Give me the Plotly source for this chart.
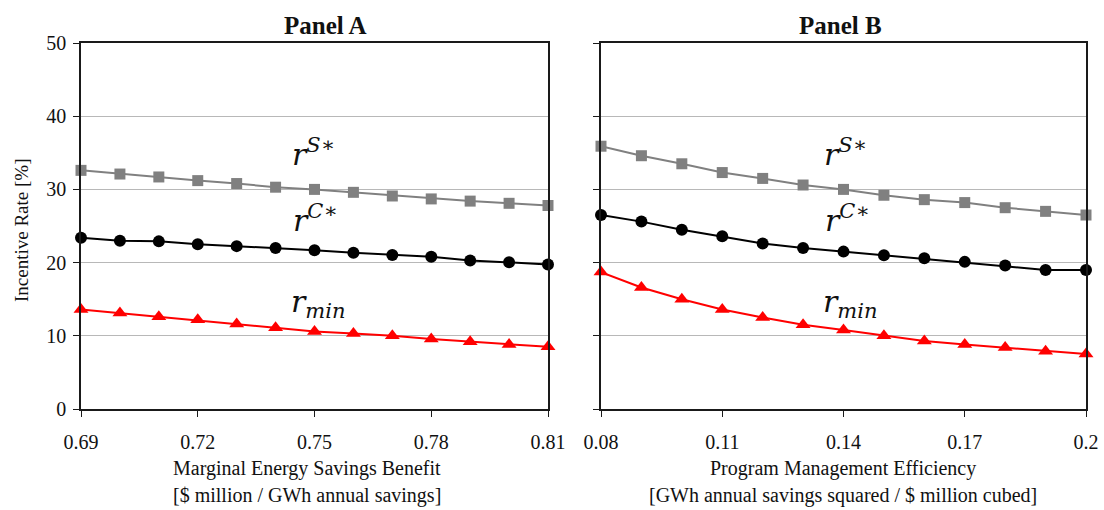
import plotly.graph_objects as go

# ---- data ----
x_a = [0.69, 0.70, 0.71, 0.72, 0.73, 0.74, 0.75, 0.76, 0.77, 0.78, 0.79, 0.80, 0.81]
rs_a = [32.6, 32.1, 31.7, 31.2, 30.8, 30.3, 30.0, 29.6, 29.1, 28.7, 28.4, 28.1, 27.8]
rc_a = [23.4, 23.0, 22.9, 22.5, 22.25, 22.0, 21.7, 21.35, 21.05, 20.8, 20.3, 20.05, 19.75]
rmin_a = [13.6, 13.1, 12.6, 12.2, 11.6, 11.1, 10.6, 10.3, 10.0, 9.55, 9.2, 8.8, 8.5]

x_b = [0.08, 0.09, 0.10, 0.11, 0.12, 0.13, 0.14, 0.15, 0.16, 0.17, 0.18, 0.19, 0.20]
rs_b = [35.9, 34.6, 33.5, 32.3, 31.5, 30.6, 30.0, 29.2, 28.6, 28.2, 27.5, 27.0, 26.5]
rc_b = [26.5, 25.6, 24.5, 23.6, 22.6, 22.0, 21.5, 21.0, 20.6, 20.1, 19.6, 19.0, 19.0]
rmin_b = [18.7, 16.6, 15.0, 13.6, 12.5, 11.5, 10.8, 10.0, 9.3, 8.8, 8.4, 7.9, 7.5]

ticks_a = [0.69, 0.72, 0.75, 0.78, 0.81]
ticklabels_a = ["0.69", "0.72", "0.75", "0.78", "0.81"]
ticks_b = [0.08, 0.11, 0.14, 0.17, 0.20]
ticklabels_b = ["0.08", "0.11", "0.14", "0.17", "0.2"]
yticks = [0, 10, 20, 30, 40, 50]

W, H = 1104, 510
FONT = "Liberation Serif"

def px(x):
    return x / W

def py(y):
    return 1 - y / H

fig = go.Figure()

series_style = [
    ("rS", dict(color="#808080", symbol="square", size=11), "#808080"),
    ("rC", dict(color="#000000", symbol="circle", size=12), "#000000"),
    ("rmin", dict(color="#ff0000", symbol="triangle-up", size=13), "#ff0000"),
]

for (xs, ys_list, xa, ya) in [
    (x_a, [rs_a, rc_a, rmin_a], "x", "y"),
    (x_b, [rs_b, rc_b, rmin_b], "x2", "y2"),
]:
    for (name, mk, lc), ys in zip(series_style, ys_list):
        fig.add_trace(go.Scatter(
            x=xs, y=ys, mode="lines+markers", name=name,
            marker=mk, line=dict(color=lc, width=2),
            xaxis=xa, yaxis=ya, cliponaxis=False, showlegend=False,
        ))

axis_common = dict(
    showline=True, linecolor="#1a1a1a", linewidth=1.5, mirror=True,
    ticks="outside", ticklen=6, tickcolor="#1a1a1a", tickwidth=1.2,
    zeroline=False, automargin=False,
    tickfont=dict(family=FONT, size=20, color="#111"),
)

fig.update_layout(
    width=W, height=H,
    margin=dict(l=0, r=0, t=0, b=0, autoexpand=False),
    paper_bgcolor="white", plot_bgcolor="white",
    font=dict(family=FONT, color="#111"),
    xaxis=dict(domain=[px(81), px(548)], range=[0.69, 0.81], anchor="y",
               tickvals=ticks_a, ticktext=ticklabels_a, showgrid=False,
               ticklabelstandoff=8, **axis_common),
    yaxis=dict(domain=[py(409), py(43)], range=[0, 50], anchor="x",
               tickvals=yticks, showgrid=True, gridcolor="#b8b8b8", gridwidth=1,
               ticklabelstandoff=3, **axis_common),
    xaxis2=dict(domain=[px(601), px(1086)], range=[0.08, 0.20], anchor="y2",
                tickvals=ticks_b, ticktext=ticklabels_b, showgrid=False,
                ticklabelstandoff=8, **axis_common),
    yaxis2=dict(domain=[py(409), py(43)], range=[0, 50], anchor="x2",
                tickvals=yticks, showticklabels=False, showgrid=True,
                gridcolor="#b8b8b8", gridwidth=1, **axis_common),
)

anns = []
# panel titles
anns.append(dict(x=px(325), y=py(25), text="<b>Panel A</b>", font=dict(family=FONT, size=25, color="#111")))
anns.append(dict(x=px(840), y=py(25), text="<b>Panel B</b>", font=dict(family=FONT, size=25, color="#111")))
# y axis title
anns.append(dict(x=px(22), y=py(231), text="Incentive Rate [%]", textangle=-90,
                 font=dict(family=FONT, size=19, color="#111")))
# x axis titles
anns.append(dict(x=px(307), y=py(468), text="Marginal Energy Savings Benefit",
                 font=dict(family=FONT, size=20, color="#111")))
anns.append(dict(x=px(307), y=py(495), text="[$ million / GWh annual savings]",
                 font=dict(family=FONT, size=20, color="#111")))
anns.append(dict(x=px(843), y=py(468), text="Program Management Efficiency",
                 font=dict(family=FONT, size=20, color="#111")))
anns.append(dict(x=px(843), y=py(495), text="[GWh annual savings squared / $ million cubed]",
                 font=dict(family=FONT, size=20, color="#111")))

# series labels
mfont = dict(family="DejaVu Serif", size=30, color="#111")
lab_S = "<i>r</i><sup><i>S</i>∗</sup>"
lab_C = "<i>r</i><sup><i>C</i>∗</sup>"
lab_m = "<i>r</i><sub><i>min</i></sub>"
for cx in [313, 845]:
    anns.append(dict(x=px(cx), y=py(152), text=lab_S, font=mfont))
    anns.append(dict(x=px(cx + 2), y=py(218), text=lab_C, font=mfont))
    anns.append(dict(x=px(cx + 5), y=py(303), text=lab_m, font=mfont))

for a in anns:
    a.update(xref="paper", yref="paper", showarrow=False, xanchor="center", yanchor="middle")
fig.update_layout(annotations=anns)

fig.write_html(
    "out.html",
    config={"displayModeBar": False},
    post_script="document.body.style.margin='0';document.body.style.overflow='hidden';",
)
